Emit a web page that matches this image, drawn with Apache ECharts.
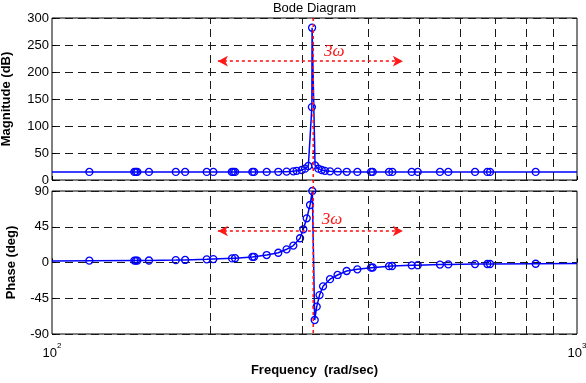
<!DOCTYPE html>
<html><head><meta charset="utf-8">
<script src="https://cdn.jsdelivr.net/npm/echarts@6/dist/echarts.min.js"></script>
<style>html,body{margin:0;padding:0;background:#fff}#c{width:586px;height:383px}</style>
</head><body><div id="c"></div>
<script>
// ---- data ----
const magFreq = [100, 117.8, 143.5, 144.5, 145.4, 153.0, 172.1, 179.3, 197.1, 202.9, 220.0, 221.5, 223.2, 240.8, 242.6, 256.4, 269.8, 279.8, 288.2, 292.4, 299.0, 303.4, 307.8, 312.6, 312.9, 317.0, 321.6, 326.4, 331.1, 338.5, 350.2, 364.3, 381.6, 405.2, 408.2, 438.5, 444.9, 484.3, 497.3, 548.3, 568.6, 639.4, 674.9, 682.9, 834.2, 1000];
const magDb   = [15, 15, 15, 15, 15, 15, 15, 15, 15, 15, 15, 15, 15, 15, 15, 15, 15.2, 15.5, 16, 17, 18.5, 21, 26, 135, 282, 27, 21, 18.5, 17, 16, 15.5, 15.2, 15, 15, 15, 15, 15, 15, 15, 15, 15, 15, 15, 15, 15, 15];
const phaseFreq = [100, 117.8, 143.5, 144.5, 145.4, 153.0, 172.1, 179.3, 197.1, 202.9, 220.3, 223.2, 240.8, 242.6, 256.4, 269.8, 279.8, 288.2, 296.8, 301.1, 305.6, 310.1, 313.2, 316.5, 319.3, 323.3, 328.3, 338.5, 349.9, 364.1, 381.6, 405.2, 408.2, 438.5, 444.3, 484.3, 497.3, 548.3, 568.6, 639.4, 674.9, 682.9, 834.2, 1000];
const phaseDeg  = [2.0, 2.3, 2.4, 2.4, 2.4, 2.5, 3.0, 3.2, 4.0, 4.3, 5.2, 5.4, 7.0, 7.2, 9.4, 12.3, 16.6, 21.3, 30.5, 41.8, 55.6, 72.4, 90, -72.4, -55.6, -41, -30, -21, -15.7, -10.7, -8.6, -6.5, -6.3, -4.6, -4.4, -3.6, -3.4, -2.6, -2.4, -2.0, -1.9, -1.9, -1.6, -1.4];
const gridFreq = [200, 300, 400, 500, 600, 700, 800, 900];
const resonanceFreq = 314.5;
const magArrow = {from: 207, to: 466, level: 220};
const phaseArrow = {from: 207, to: 466, level: 39.6};
const magLabelAt = [329.6, 237.6];
const phaseLabelAt = [326.4, 53.5];
const markerText = '3ω';

(function () {
const BLUE = '#0000ff', RED = '#ff1a1a';
const FONT = 'Liberation Sans, Arial, sans-serif';

function toData(fs, vs) {
  return fs.map((f, i) => {
    const d = {value: [f, vs[i]]};
    if (i === 0 || i === fs.length - 1) d.symbol = 'none';
    return d;
  });
}

const chart = echarts.init(document.getElementById('c'), null, {renderer: 'canvas'});

const gridLineStyle = {color: '#1a1a1a', type: [8, 5], width: 1};
function xAx(idx, showLabels) {
  return {
    type: 'log', logBase: 10, min: 100, max: 1000, gridIndex: idx,
    axisLine: {show: false},
    axisTick: {show: true, inside: true, length: 4, lineStyle: {color: '#000'}},
    splitLine: {show: false},
    axisLabel: showLabels ? {
      show: true, margin: 8, color: '#000',
      formatter: v => '{b|10}{s|' + Math.round(Math.log10(v)) + '}',
      rich: {
        b: {fontSize: 13, fontFamily: FONT, color: '#000', verticalAlign: 'bottom', lineHeight: 18},
        s: {fontSize: 8, fontFamily: FONT, color: '#000', verticalAlign: 'top', lineHeight: 18}
      }
    } : {show: false},
    name: showLabels ? 'Frequency  (rad/sec)' : '',
    nameLocation: 'middle', nameGap: 30,
    nameTextStyle: {fontSize: 13, fontWeight: 'bold', fontFamily: FONT, color: '#000'}
  };
}
function yAx(idx, min, max, interval, name, gap) {
  return {
    type: 'value', gridIndex: idx, min, max, interval,
    axisLine: {show: false},
    axisTick: {show: true, inside: true, length: 4, lineStyle: {color: '#000'}},
    splitLine: {show: true, lineStyle: gridLineStyle},
    axisLabel: {fontSize: 13, fontFamily: FONT, color: '#000', margin: 3},
    name, nameLocation: 'middle', nameGap: gap, nameRotate: 90,
    nameTextStyle: {fontSize: 13, fontWeight: 'bold', fontFamily: FONT, color: '#000'}
  };
}

function gridVSeries(idx) {
  return {
    type: 'line', xAxisIndex: idx, yAxisIndex: idx, data: [], z: 1, silent: true,
    markLine: {
      silent: true, symbol: 'none', animation: false,
      label: {show: false},
      lineStyle: gridLineStyle,
      data: gridFreq.map(v => ({xAxis: v}))
    }
  };
}
function arrowSeries(idx, a) {
  return {
    type: 'line', xAxisIndex: idx, yAxisIndex: idx, data: [], z: 5, silent: true,
    markLine: {
      silent: true, symbol: ['arrow', 'arrow'], symbolSize: [8, 10], animation: false,
      label: {show: false},
      lineStyle: {color: RED, type: [3, 3], width: 1.6},
      itemStyle: {color: RED},
      data: [[{coord: [a.from, a.level]}, {coord: [a.to, a.level]}]]
    }
  };
}
function mainSeries(idx, fs, vs) {
  return {
    type: 'line', xAxisIndex: idx, yAxisIndex: idx, z: 3,
    data: toData(fs, vs),
    symbol: 'circle', symbolSize: 7, showSymbol: true, showAllSymbol: true,
    lineStyle: {color: BLUE, width: 1.5},
    itemStyle: {color: 'rgba(0,0,0,0)', borderColor: BLUE, borderWidth: 1.3},
    emphasis: {disabled: true}
  };
}

chart.setOption({
  animation: false,
  backgroundColor: '#fff',
  grid: [
    {left: 52, right: 9, top: 18, height: 162, show: true, borderColor: '#000', borderWidth: 1, backgroundColor: '#fff', containLabel: false, outerBoundsMode: 'none'},
    {left: 52, right: 9, top: 191, height: 143, show: true, borderColor: '#000', borderWidth: 1, backgroundColor: '#fff', containLabel: false, outerBoundsMode: 'none'}
  ],
  xAxis: [xAx(0, false), xAx(1, true)],
  yAxis: [yAx(0, 0, 300, 50, 'Magnitude (dB)', 39), yAx(1, -90, 90, 45, 'Phase (deg)', 34)],
  series: [
    gridVSeries(0), gridVSeries(1),
    mainSeries(0, magFreq, magDb), mainSeries(1, phaseFreq, phaseDeg),
    arrowSeries(0, magArrow), arrowSeries(1, phaseArrow)
  ]
});

const pTop = chart.convertToPixel({xAxisIndex: 0, yAxisIndex: 0}, [resonanceFreq, 300]);
const pBot = chart.convertToPixel({xAxisIndex: 1, yAxisIndex: 1}, [resonanceFreq, -90]);
const l1 = chart.convertToPixel({xAxisIndex: 0, yAxisIndex: 0}, magLabelAt);
const l2 = chart.convertToPixel({xAxisIndex: 1, yAxisIndex: 1}, phaseLabelAt);
const gl = chart.convertToPixel({xAxisIndex: 0, yAxisIndex: 0}, [100, 300]);
const gr = chart.convertToPixel({xAxisIndex: 0, yAxisIndex: 0}, [1000, 300]);
const labelStyle = {text: markerText, fill: RED, font: 'italic 17px "Liberation Serif", "Times New Roman", serif', textVerticalAlign: 'middle', textAlign: 'left'};
chart.setOption({
  graphic: [
    {type: 'line', z: 100, silent: true, shape: {x1: pTop[0], y1: pTop[1], x2: pBot[0], y2: pBot[1]},
     style: {stroke: RED, lineWidth: 1.6, lineDash: [3, 3]}},
    {type: 'text', z: 100, silent: true, x: l1[0], y: l1[1], style: labelStyle},
    {type: 'text', z: 100, silent: true, x: l2[0], y: l2[1], style: labelStyle},
    {type: 'text', z: 100, silent: true, x: (gl[0] + gr[0]) / 2, y: 8,
     style: {text: 'Bode Diagram', fill: '#000', font: '13px ' + FONT, textAlign: 'center', textVerticalAlign: 'middle'}}
  ]
});
})();
</script>
</body></html>
